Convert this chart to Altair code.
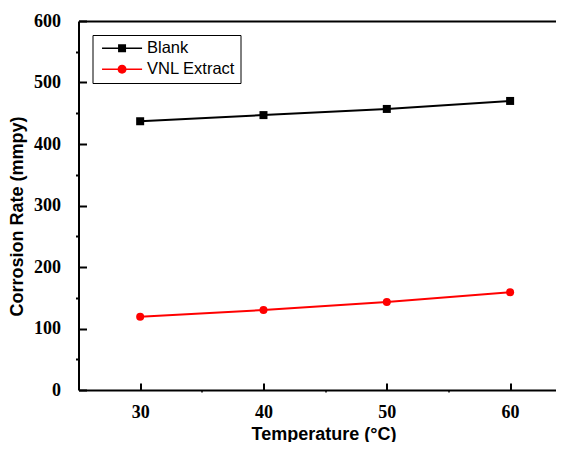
import altair as alt
import pandas as pd

# ---- data ----
temps = [30, 40, 50, 60]
blank = [437, 447, 457, 470]
vnl = [119, 130, 143, 159]
series_names = ["Blank", "VNL Extract"]
series_colors = ["#000000", "#ff0000"]
y_ticks = [0, 100, 200, 300, 400, 500, 600]
y_minor = [0, 50, 100, 150, 200, 250, 300, 350, 400, 450, 500, 550, 600]
x_ticks = [30, 40, 50, 60]
x_minor = [30, 35, 40, 45, 50, 55, 60]

df_blank = pd.DataFrame({"T": temps, "CR": blank, "series": series_names[0]})
df_vnl = pd.DataFrame({"T": temps, "CR": vnl, "series": series_names[1]})
df_all = pd.concat([df_blank, df_vnl])

W, H = 477.5, 369
xs = alt.Scale(domain=[25, 63.72], nice=False, zero=False)
ys = alt.Scale(domain=[0, 600], nice=False, zero=True)

TICKFONT = "Liberation Serif"
TITLEFONT = "Liberation Sans"

# main axes (labels, outward minor ticks)
x_main = alt.Axis(
    orient="bottom", values=x_minor, grid=False, domainColor="black", domainWidth=2,
    tickColor="black", tickWidth=1.5, tickSize=2,
    tickOpacity={"condition": {"test": "datum.value % 10 === 0", "value": 0}, "value": 1},
    labelExpr="datum.value % 10 === 0 ? datum.label : ''",
    labelFont=TICKFONT, labelFontWeight="bold", labelFontSize=18, labelColor="black",
    labelPadding=11,
    title="Temperature (°C)", titleFont=TITLEFONT, titleFontWeight="bold", titleFontSize=18,
    titleColor="black", titleX=245, titleY=44, titleBaseline="middle", titleAlign="center",
)
y_main = alt.Axis(
    orient="left", values=y_minor, grid=False, domainColor="black", domainWidth=2,
    tickColor="black", tickWidth=2, tickSize=3,
    tickOpacity={"condition": {"test": "datum.value % 100 === 0", "value": 0}, "value": 1},
    labelExpr="datum.value % 100 === 0 ? datum.label : ''",
    labelFont=TICKFONT, labelFontWeight="bold", labelFontSize=18, labelColor="black",
    labelPadding=15,
    title="Corrosion Rate (mmpy)", titleFont=TITLEFONT, titleFontWeight="bold", titleFontSize=18,
    titleColor="black", titleX=-61, titleY=195, titleBaseline="middle", titleAlign="center",
    titleAngle=270,
)
# inward major ticks
x_inner = alt.Axis(orient="top", offset=-H, values=x_ticks, grid=False, domain=False,
                   labels=False, tickColor="black", tickWidth=2, tickSize=7, title=None)
y_inner = alt.Axis(orient="right", offset=-W, values=y_ticks, grid=False, domain=False,
                   labels=False, tickColor="black", tickWidth=2, tickSize=8, title=None)
# top border
x_top = alt.Axis(orient="top", values=x_ticks, grid=False, domain=True, domainColor="black",
                 domainWidth=2, ticks=False, labels=False, title=None)

blank_line = alt.Chart(df_blank).mark_line(color="black", strokeWidth=2).encode(
    x=alt.X("T:Q", scale=xs, axis=x_main),
    y=alt.Y("CR:Q", scale=ys, axis=y_main),
)
blank_pts = alt.Chart(df_blank).mark_point(shape="square", filled=True, color="black",
                                           size=64, opacity=1).encode(
    x=alt.X("T:Q", scale=xs, axis=x_inner),
    y=alt.Y("CR:Q", scale=ys, axis=y_inner),
)
vnl_line = alt.Chart(df_vnl).mark_line(color="red", strokeWidth=2).encode(
    x=alt.X("T:Q", scale=xs, axis=x_top),
    y=alt.Y("CR:Q", scale=ys, axis=None),
)
vnl_pts = alt.Chart(df_vnl).mark_point(shape="circle", filled=True, color="red",
                                       size=64, opacity=1).encode(
    x=alt.X("T:Q", scale=xs, axis=None),
    y=alt.Y("CR:Q", scale=ys, axis=None),
)

# legend: line-with-marker symbols
sq_path = "M-0.53,-0.11H5.19V0.11H-0.53Z M1.76,-0.57H2.9V0.57H1.76Z"
ci_path = ("M-0.53,-0.11H5.19V0.11H-0.53Z "
           "M2.97,0A0.64,0.64 0 1,1 1.69,0A0.64,0.64 0 1,1 2.97,0Z")
leg = alt.Legend(
    orient="none", legendX=14, legendY=14, title=None,
    symbolSize=196, symbolStrokeWidth=0, symbolOpacity=1,
    labelFont=TITLEFONT, labelFontSize=16.5, labelColor="black", labelOffset=33,
    padding=5, rowPadding=4, strokeColor="black", fillColor="white", cornerRadius=0,
)
legend_layer = alt.Chart(df_all).transform_filter("false").mark_point(
    filled=True, opacity=1, strokeWidth=0).encode(
    shape=alt.Shape("series:N", scale=alt.Scale(domain=series_names, range=[sq_path, ci_path]),
                    legend=leg),
    color=alt.Color("series:N", scale=alt.Scale(domain=series_names, range=series_colors),
                    legend=leg),
)

chart = alt.layer(blank_line, blank_pts, vnl_line, vnl_pts, legend_layer).resolve_axis(
    x="independent", y="independent"
).properties(
    width=W, height=H,
    autosize=alt.AutoSizeParams(type="none"),
    padding={"left": 70.5, "top": 13, "right": 0, "bottom": 52},
).configure_view(stroke=None).configure(background="white")

chart.save("out.html", embed_options={"renderer": "svg", "actions": False})
